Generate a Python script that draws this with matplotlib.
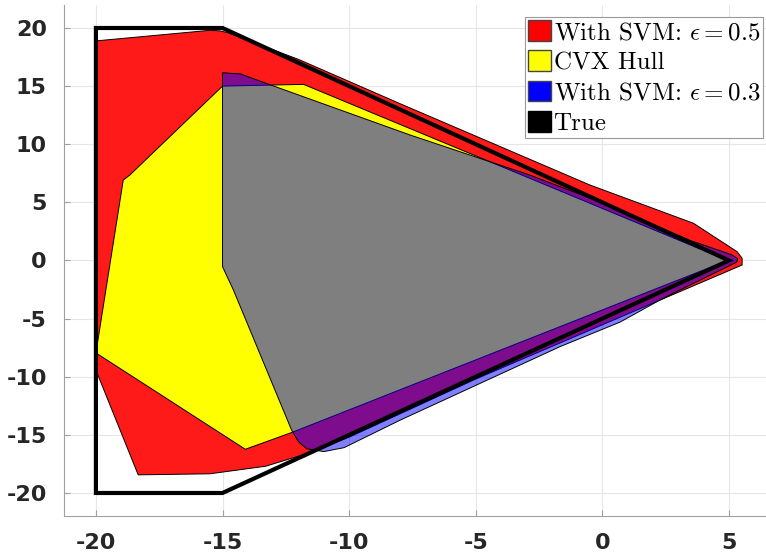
import matplotlib
matplotlib.use("Agg")
import matplotlib.pyplot as plt
from matplotlib.patches import Patch

plt.rcParams['mathtext.fontset'] = 'cm'
plt.rcParams['axes.unicode_minus'] = False

# SVM region, eps = 0.5 (red)
svm05_x = [-19.95, -15.5, -15.1, -14.8, -12.0, -8.0, -0.5, 3.6, 5.32, 5.52, 5.52, 3.21,
           -5.0, -10.0, -11.5, -13.3, -15.5, -18.33, -19.95]
svm05_y = [18.9, 19.8, 19.75, 19.6, 17.3, 13.5, 6.5, 3.2, 0.76, 0.19, -0.39, -2.54,
           -10.2, -15.2, -16.5, -17.7, -18.35, -18.44, -9.7]

# convex hull (yellow)
cvx_x = [-15.0, -11.8, 4.95, -12.27, -14.1, -20.0, -18.92, -18.66]
cvx_y = [15.0, 15.15, 0.0, -14.8, -16.24, -7.95, 6.92, 7.35]

# SVM region, eps = 0.3 (blue, transparent)
svm03_x = [-15.0, -14.3, -13.1, -7.6, -2.8, 0.0, 3.5, 5.1, 5.35, 5.3, 2.4, 0.7, -1.66,
           -8.0, -10.2, -11.0, -11.67, -12.0, -12.27, -14.57, -15.0]
svm03_y = [16.15, 16.05, 15.1, 10.8, 7.3, 4.95, 1.7, 0.5, 0.15, -0.15, -3.25, -5.3, -7.4,
           -13.75, -16.1, -16.44, -16.2, -15.6, -14.6, -2.54, -0.53]

# true set
true_x = [-20, -15, 5, -15, -20]
true_y = [20, 20, 0, -20, -20]

labels = [r'With SVM: $\epsilon = 0.5$', 'CVX Hull',
          r'With SVM: $\epsilon = 0.3$', 'True']

fig = plt.figure(figsize=(7.66, 5.52), dpi=100)
ax = fig.add_axes([0.0829, 0.0648, 0.917, 0.9266])

ax.fill(svm05_x, svm05_y, facecolor='#ff1a1a', edgecolor='k', lw=0.7, zorder=2)
ax.fill(cvx_x, cvx_y, facecolor='#ffff00', edgecolor='k', lw=0.7, zorder=3)
ax.fill(svm03_x, svm03_y, facecolor=(0, 0, 1, 0.5), edgecolor='k', lw=0.7, zorder=4)
ax.fill(true_x, true_y, facecolor='none', edgecolor='k', lw=3, zorder=5)

ax.set_xlim(-21.28, 6.46)
ax.set_ylim(-22, 22)
ax.set_xticks(range(-20, 6, 5))
ax.set_yticks(range(-20, 21, 5))
ax.grid(True, color='#e6e6e6', lw=0.8)
ax.set_axisbelow(True)
for s in ['top', 'right']:
    ax.spines[s].set_visible(False)
for s in ['left', 'bottom']:
    ax.spines[s].set_color('#a0a0a0')
ax.tick_params(direction='in', length=4, color='#a0a0a0', labelcolor='#262626', pad=12)
for lab in ax.get_xticklabels() + ax.get_yticklabels():
    lab.set_fontsize(16)
    lab.set_fontweight('bold')

handles = [Patch(facecolor='#ff0000', edgecolor='#444444'),
           Patch(facecolor='#ffff00', edgecolor='#444444'),
           Patch(facecolor='#0000ff', edgecolor='#444444'),
           Patch(facecolor='#000000', edgecolor='#000000')]
leg = ax.legend(handles, labels, loc='upper right', bbox_to_anchor=(0.9957, 0.976),
                prop={'family': 'cmr10', 'size': 18}, fancybox=False, framealpha=1,
                edgecolor='#999999', handlelength=0.9, handleheight=0.9,
                handletextpad=0.12, labelspacing=0.25, borderpad=0.12, borderaxespad=0)
leg.get_frame().set_linewidth(0.8)

fig.savefig('out.png', dpi=100)
